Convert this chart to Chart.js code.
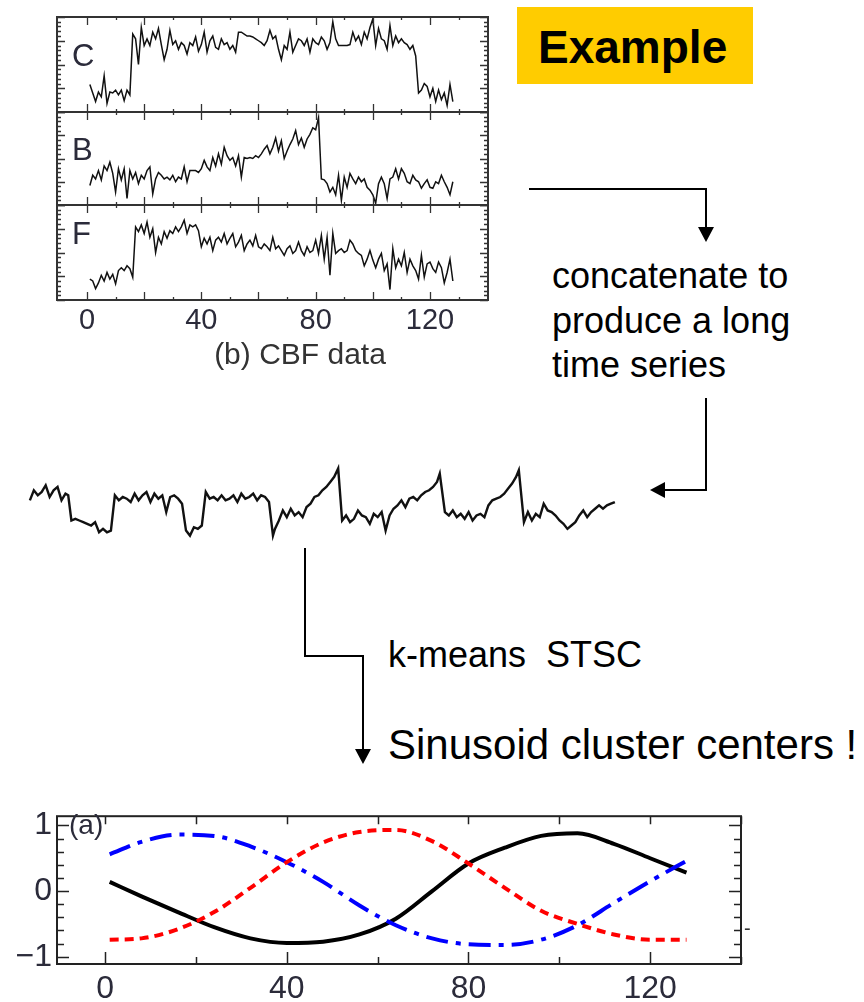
<!DOCTYPE html>
<html>
<head>
<meta charset="utf-8">
<script src="https://cdn.jsdelivr.net/npm/chart.js@4.4.1/dist/chart.umd.min.js"></script>
<style>
  html, body { margin:0; padding:0; background:#fff; }
  #page { position:relative; width:864px; height:1002px; overflow:hidden; font-family:"Liberation Sans", Arial, Helvetica, sans-serif; }
  canvas { position:absolute; }
  .t { position:absolute; white-space:pre; color:#000; }
  svg { position:absolute; left:0; top:0; }
</style>
</head>
<body>
<div id="page">
  <div style="position:absolute;left:517px;top:7px;width:236px;height:77px;background:#FFCC00;"></div>
  <div class="t" style="left:538px;top:21px;font-size:46px;line-height:52px;font-weight:bold;">Example</div>

  <canvas id="cC" width="437" height="101" style="left:54px;top:14px;"></canvas>
  <canvas id="cB" width="437" height="99" style="left:54px;top:109px;"></canvas>
  <canvas id="cF" width="437" height="136" style="left:54px;top:202px;"></canvas>
  <div class="t" style="left:72px;top:39px;font-size:31px;line-height:34px;color:#2b2b3a;">C</div>
  <div class="t" style="left:72px;top:133px;font-size:31px;line-height:34px;color:#2b2b3a;">B</div>
  <div class="t" style="left:72px;top:217px;font-size:31px;line-height:34px;color:#2b2b3a;">F</div>
  <div class="t" style="left:210px;top:337px;width:180px;text-align:center;font-size:30px;line-height:34px;color:#333;">(b) CBF data</div>

  <div class="t" style="left:552px;top:254px;font-size:36px;line-height:44.5px;">concatenate to
produce a long
time series</div>

  <canvas id="cLong" width="606" height="100" style="left:17px;top:447px;"></canvas>

  <div class="t" style="left:388px;top:633px;font-size:36px;line-height:44px;">k-means  STSC</div>
  <div class="t" style="left:388px;top:721px;font-size:42px;line-height:48px;">Sinusoid cluster centers !</div>

  <canvas id="cSin" width="728" height="210" style="left:17px;top:792px;"></canvas>
  <div class="t" style="left:69px;top:809px;font-size:28px;line-height:32px;color:#2b2b3a;">(a)</div>
  <div class="t" style="left:744px;top:916px;font-size:20px;line-height:24px;color:#333;">-</div>

  <svg width="864" height="1002">
    <g fill="none" stroke="#000" stroke-width="2">
      <polyline points="529,189 706,189 706,229"/>
      <polyline points="706,398 706,490 664,490"/>
      <polyline points="305,548 305,656 363,656 363,750"/>
    </g>
    <g fill="#000">
      <polygon points="698,227 714,227 706,242"/>
      <polygon points="665,482 665,498 650,490"/>
      <polygon points="355,749 371,749 363,764"/>
    </g>
  </svg>
</div>

<script>
// ---------------- data ----------------
// CBF panels (relative level, 0 = panel bottom, 10 = panel top), time steps 1..128
const cbfC = [2.9,2.0,1.1,2.1,1.6,3.8,0.9,2.1,2.0,2.3,1.8,2.3,1.2,2.3,1.8,
  8.2,7.7,5.0,8.9,7.0,7.7,7.0,8.4,7.7,8.8,7.1,5.5,6.6,8.6,7.1,7.5,6.6,7.3,7.0,6.1,7.3,7.0,7.9,6.4,7.1,
  8.4,6.3,7.5,8.0,6.8,6.6,7.7,7.1,7.3,6.6,7.0,6.3,8.4,8.4,8.2,8.0,8.0,7.9,7.7,7.5,7.3,7.0,7.5,8.6,7.7,
  8.0,6.6,5.5,7.0,6.6,8.4,6.3,7.0,7.7,7.5,7.0,7.7,6.3,7.7,7.3,7.1,7.9,7.5,6.6,7.3,9.5,7.7,7.0,7.0,7.0,
  7.0,7.1,8.4,7.5,8.0,7.1,8.4,7.7,8.9,9.8,7.0,8.8,7.7,7.5,6.6,9.1,7.0,8.0,7.3,7.7,7.3,7.1,6.6,7.0,5.9,
  2.0,2.3,3.0,2.7,1.6,2.5,1.1,2.3,1.3,2.0,0.7,2.9,1.1];
const cbfB = [2.1,3.2,2.8,3.7,2.7,4.2,3.7,4.6,3.4,1.4,3.9,2.7,3.9,0.7,3.7,2.8,3.5,2.3,3.2,2.8,
  3.7,4.1,1.2,2.8,3.5,3.2,2.8,3.0,2.7,3.2,2.5,3.0,2.8,4.1,2.5,3.7,3.7,3.7,3.5,3.9,
  4.8,4.1,3.7,5.1,4.2,5.5,4.4,6.2,5.3,4.8,5.1,4.2,5.3,3.0,5.1,5.0,5.1,5.0,5.3,5.1,
  5.5,6.0,6.4,5.5,6.2,7.2,5.8,6.9,5.0,5.8,6.5,7.1,8.0,6.5,7.2,6.2,7.1,7.6,8.3,8.1,9.4,
  2.8,2.7,2.3,1.4,1.9,1.1,3.2,0.5,3.0,1.9,3.4,2.8,2.3,3.0,2.5,2.8,1.9,1.6,1.1,0.2,
  2.3,3.0,2.3,0.7,2.8,3.0,3.9,2.8,3.9,3.4,2.5,2.3,3.2,2.7,2.5,1.8,2.3,2.7,1.9,1.8,
  2.5,2.3,3.2,2.5,1.9,1.1,2.5];
const cbfF = [2.2,2.0,1.2,1.8,2.6,2.0,2.9,2.2,2.7,1.7,3.1,3.4,3.1,3.6,3.3,2.4,
  7.7,7.2,7.9,7.0,8.2,6.6,7.5,5.0,6.6,5.9,7.2,6.5,7.3,7.0,7.7,7.2,7.7,8.4,7.0,7.9,7.7,7.9,7.3,
  5.6,6.5,5.9,6.6,5.2,6.3,6.6,6.1,7.0,5.9,6.5,7.0,5.6,6.1,6.8,5.2,5.9,6.3,5.7,6.8,5.6,
  5.4,5.9,5.6,5.2,6.6,5.4,5.7,5.2,4.7,5.4,5.7,4.9,5.2,6.1,5.2,4.7,5.6,5.0,5.2,6.3,
  4.9,6.8,4.3,6.6,2.6,7.0,4.9,5.2,5.4,5.0,5.2,6.3,5.9,5.2,4.9,4.7,3.6,4.3,5.2,4.2,
  3.4,4.3,4.9,3.1,3.8,1.1,5.4,3.4,4.3,3.6,5.0,2.9,4.3,3.6,3.1,2.2,4.7,2.4,3.8,4.0,
  3.3,2.9,4.0,3.4,1.8,2.9,4.3,2.0];
const cbfTickLabels = [0, 40, 80, 120];

// concatenated long series: time and level
const longT = [5,7,9,11,13,15,17,19,21,23,24.4,26,28,30,32,34,36,38,40,42,44,46,
  48,50,52,54,56,58,60,62,64,66,68,70,72,74,76,78,80,82,84,86,88,90,92,
  94,96,98,100,102,104,106,108,110,112,114,116,118,120,122,124,126,128,129,131,133,135,137,139,
  141,143,145,147,149,151,153,155,157,159,161,163,165,167,169,171,173,175,177,179,181,183,185,
  187,189,191,193,195,197,199,201,203,205,207,209,211,212.4,215,217,219,221,223,225,227,229,
  231,233,235,237,239,241,243,245,247,249,251,252.4,255,257,259,261,263,265,267,269,271,273,
  275,277,279,281,283,285,287,289,291,293,295,297,299,301];
const longV = [13,16,14.5,15.5,17.5,14,16,17,13,15,14.5,7,7.5,7,6.5,6,5.5,6.5,3.5,4.5,3.5,4,
  14.5,13,14,13.5,12.5,15,13,14.5,15.5,12.5,15,13.5,14.5,9.5,14,14.5,13.5,12,4,2.5,5,4.5,5.5,
  15.5,13.5,14,13,14.5,13,13.5,14.5,12.5,15,13.5,14,15,13,14.5,14,12.5,2.5,4.5,7,10,8,10.5,8.5,
  9.5,8,11,12,14,14.5,16,17,18.5,20,22.5,7,8.5,6.5,7.5,10,8.5,8,6,9,8,9.5,4,
  8.5,10.5,11.5,13,11,13.5,14,13,14.5,15.5,16,17,18.5,21,9.5,8.5,10,8,9,7.5,9.5,7,
  8.5,9,8,11.5,13,13.5,14,15,16.5,18,20,22,6.5,9.5,7,9,8,12,10,9.5,8.5,7,
  6,4.5,5.5,6.5,8.5,10,8,9.5,10.5,11.5,10.5,11.5,12,12.5];

// sinusoid cluster centres
const sinT = [1,8,16,24,32,40,48,56,64,72,80,88,96,104,112,120,128];
const sinBlack = [0.14,-0.08,-0.32,-0.55,-0.72,-0.79,-0.77,-0.66,-0.42,0.0,0.42,0.66,0.84,0.88,0.72,0.50,0.28];
const sinBlue  = [0.56,0.75,0.86,0.84,0.68,0.44,0.14,-0.22,-0.52,-0.72,-0.81,-0.82,-0.74,-0.52,-0.18,0.15,0.46];
const sinRed   = [-0.74,-0.72,-0.58,-0.32,0.05,0.44,0.74,0.90,0.93,0.76,0.42,0.05,-0.30,-0.50,-0.66,-0.74,-0.74];
const sinXLabels = [0, 40, 80, 120];
const sinYLabels = [-1, 0, 1];

// ---------------- drawing ----------------
const FONT = '"Liberation Sans", Arial, Helvetica, sans-serif';

const frameTicks = {
  id: 'frameTicks',
  afterDraw(chart, args, o) {
    if (!o || !o.on) return;
    const {ctx, chartArea: a, scales} = chart;
    const x = scales.x, y = scales.y;
    ctx.save();
    ctx.strokeStyle = o.color;
    ctx.lineWidth = o.tickWidth;
    ctx.beginPath();
    for (const t of o.xTicks) {
      const p = Math.round(x.getPixelForValue(t.v)) + 0.5;
      ctx.moveTo(p, a.bottom); ctx.lineTo(p, a.bottom - t.len);
      ctx.moveTo(p, a.top); ctx.lineTo(p, a.top + (o.topLen ? o.topLen(t) : t.len));
    }
    for (const t of o.yTicks) {
      const p = Math.round(y.getPixelForValue(t.v)) + 0.5;
      ctx.moveTo(a.left, p); ctx.lineTo(a.left + t.len, p);
      ctx.moveTo(a.right, p); ctx.lineTo(a.right - t.len, p);
    }
    ctx.stroke();
    ctx.lineWidth = o.width;
    ctx.strokeRect(a.left, a.top, a.right - a.left, a.bottom - a.top);
    ctx.restore();
  }
};
Chart.register(frameTicks);

function tickList(from, to, step, isMajor, majorLen, minorLen) {
  const out = [];
  for (let k = 0; from + k * step <= to + 1e-9; k++) {
    const v = +(from + k * step).toFixed(4);
    out.push({v, len: isMajor(v) ? majorLen : minorLen});
  }
  return out;
}

const cbfX = tickList(0, 130, 10, v => Math.abs(v % 20) < 1e-6, 8, 3);
const cbfY = tickList(0, 10, 0.5, v => Math.abs(v % 2.5) < 1e-6, 8, 4);

function cbfPanel(id, values, showX) {
  const xScale = { type: 'linear', min: -10.5, max: 140.3, display: showX,
    grid: {display: false, drawTicks: false}, border: {display: false},
    ticks: { font: {size: 29, family: FONT}, color: '#2b2b3a', padding: 4, maxRotation: 0, autoSkip: false },
    afterBuildTicks: s => { s.ticks = cbfTickLabels.map(v => ({value: v})); } };
  if (showX) xScale.afterFit = s => { s.height = 38; };
  new Chart(document.getElementById(id), {
    type: 'line',
    data: { datasets: [{
      data: values.map((v, i) => ({x: i + 1, y: v})),
      borderColor: '#111', borderWidth: 1.5, pointRadius: 0, tension: 0
    }]},
    options: {
      responsive: false, animation: false, events: [],
      layout: { padding: { top: 3, left: 3, right: 3, bottom: showX ? 0 : 3 } },
      plugins: { legend: {display: false}, tooltip: {enabled: false},
        frameTicks: { on: true, color: '#333', width: 2, tickWidth: 1.3, xTicks: cbfX, yTicks: cbfY } },
      scales: { x: xScale, y: { min: 0, max: 10, display: false } }
    }
  });
}
cbfPanel('cC', cbfC, false);
cbfPanel('cB', cbfB, false);
cbfPanel('cF', cbfF, true);

// long concatenated series
new Chart(document.getElementById('cLong'), {
  type: 'line',
  data: { datasets: [{
    data: longT.map((t, i) => ({x: t, y: longV[i]})),
    borderColor: '#111', borderWidth: 2.4, pointRadius: 0, tension: 0
  }]},
  options: {
    responsive: false, animation: false, events: [],
    layout: { padding: 3 },
    plugins: { legend: {display: false}, tooltip: {enabled: false} },
    scales: {
      x: { type: 'linear', min: 0, max: 303.6, display: false },
      y: { min: 0, max: 28, display: false }
    }
  }
});

// sinusoid chart
const sinXT = tickList(0, 140, 20, v => Math.abs(v % 40) < 1e-6, 12, 7);
const sinYT = tickList(-1, 1, 0.2, v => Math.abs(Math.abs(v) - 1) < 1e-6 || Math.abs(v) < 1e-6, 12, 7);
new Chart(document.getElementById('cSin'), {
  type: 'line',
  data: { datasets: [
    { data: sinT.map((t, i) => ({x: t, y: sinRed[i]})), borderColor: '#ff0000', borderWidth: 4,
      borderDash: [9, 6], pointRadius: 0, tension: 0.4, cubicInterpolationMode: 'monotone' },
    { data: sinT.map((t, i) => ({x: t, y: sinBlue[i]})), borderColor: '#0000ff', borderWidth: 4,
      borderDash: [22, 8, 5, 8], pointRadius: 0, tension: 0.4, cubicInterpolationMode: 'monotone' },
    { data: sinT.map((t, i) => ({x: t, y: sinBlack[i]})), borderColor: '#000', borderWidth: 4,
      pointRadius: 0, tension: 0.4, cubicInterpolationMode: 'monotone' }
  ]},
  options: {
    responsive: false, animation: false, events: [],
    layout: { padding: { top: 4, right: 4, left: 0, bottom: 0 } },
    plugins: { legend: {display: false}, tooltip: {enabled: false},
      frameTicks: { on: true, color: '#222', width: 2, tickWidth: 1.5, xTicks: sinXT, yTicks: sinYT, topLen: t => 8 } },
    scales: {
      x: { type: 'linear', min: -10.6, max: 140,
           grid: {display: false, drawTicks: false}, border: {display: false},
           ticks: { font: {size: 32, family: FONT}, color: '#2b2b3a', padding: 6, maxRotation: 0, autoSkip: false },
           afterBuildTicks: s => { s.ticks = sinXLabels.map(v => ({value: v})); },
           afterFit: s => { s.height = 38; } },
      y: { min: -1.11, max: 1.14,
           grid: {display: false, drawTicks: false}, border: {display: false},
           ticks: { font: {size: 32, family: FONT}, color: '#2b2b3a', padding: 5, autoSkip: false,
                    callback: v => v < 0 ? '\u2212' + Math.abs(v) : String(v) },
           afterBuildTicks: s => { s.ticks = sinYLabels.map(v => ({value: v})); },
           afterFit: s => { s.width = 40; } }
    }
  }
});
</script>
</body>
</html>
